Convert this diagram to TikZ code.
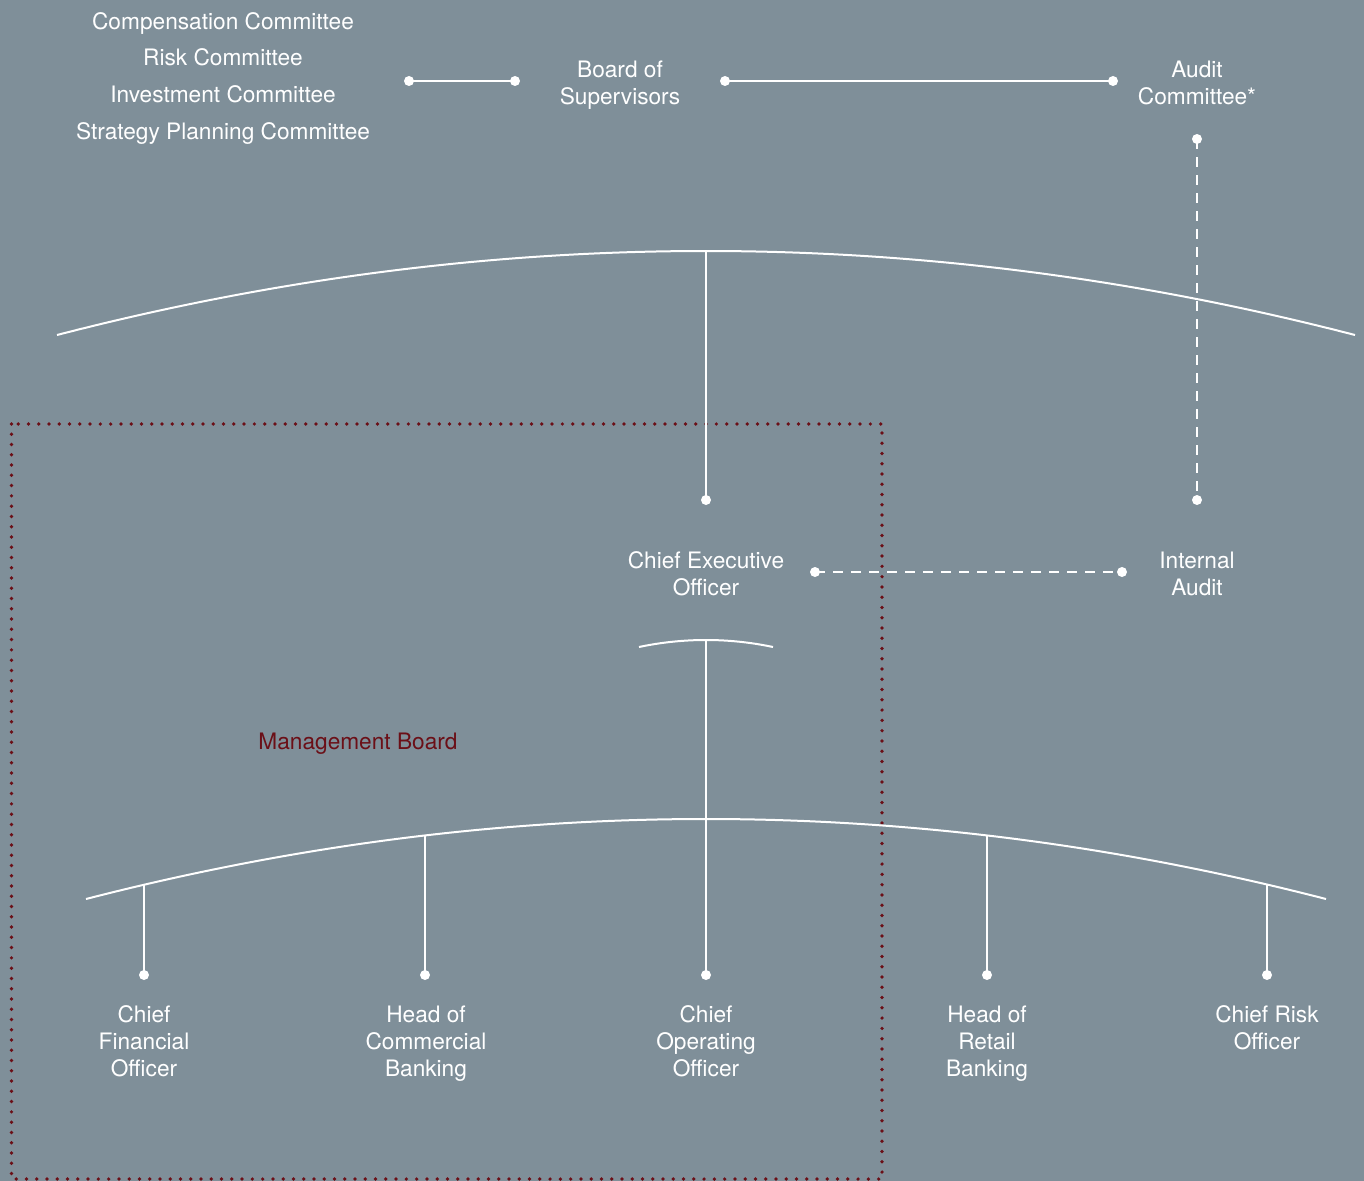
\documentclass[tikz,border=0pt]{standalone}
\usepackage{fontspec}
\setmainfont{TeX Gyre Heros}
\definecolor{bg}{HTML}{7F8F99}
\definecolor{mbred}{HTML}{6B0F17}
\begin{document}
\begin{tikzpicture}[x=0.75pt,y=-0.75pt,
  lbl/.style={text=white, align=center, font=\fontsize{17}{20.25}\selectfont, inner sep=0pt, anchor=base},
  conn/.style={white, line width=1.5pt},
  dashconn/.style={white, line width=1.5pt, dash pattern=on 7.5pt off 6pt},
  dotnode/.style={circle, fill=white, minimum size=7.5pt, inner sep=0pt},
  mbbox/.style={mbred, line width=2.8pt, line cap=round, dash pattern=on 0pt off 7.7pt}]
\fill[bg] (0,0) rectangle (1364,1181);
\useasboundingbox (0,0) rectangle (1364,1181);

% management board box
\draw[mbbox] (11.5,424) rectangle (882,1179);
\node[text=mbred, font=\fontsize{17}{20.25}\selectfont, inner sep=0pt, anchor=base] (mb) at (358,749) {Management Board};

% top row (base anchor = baseline of last line)
\node[lbl] (comp) at (223,29.3) {Compensation Committee};
\node[lbl] (risk) at (223,65.7) {Risk Committee};
\node[lbl] (inv) at (223,102.3) {Investment Committee};
\node[lbl] (strat) at (223,139.3) {Strategy Planning Committee};
\node[lbl] (bos) at (620,104.3) {Board of\\Supervisors};
\node[lbl] (ac) at (1197,104.3) {Audit\\Committee*};

\node[dotnode] (d1) at (409,81) {};
\node[dotnode] (d2) at (515,81) {};
\node[dotnode] (d3) at (725,81) {};
\node[dotnode] (d4) at (1113,81) {};
\node[dotnode] (d5) at (1197,139) {};
\node[dotnode] (d6) at (1197,500) {};
\draw[conn] (d1.center) -- (d2.center);
\draw[conn] (d3.center) -- (d4.center);
\draw[dashconn] (d5.center) -- (d6.center);

% big arc
\coordinate (a1l) at (57,335);
\coordinate (a1t) at (706,251);
\coordinate (a1r) at (1355,335);
\draw[conn] (a1l) .. controls (273.3,279) and (489.7,251) .. (a1t)
  .. controls (922.3,251) and (1138.7,279) .. (a1r);
\node[dotnode] (dceo) at (706,500) {};
\draw[conn] (a1t) -- (dceo.center);

% CEO + internal audit
\node[lbl] (ceo) at (706,595) {Chief Executive\\Officer};
\node[lbl] (ia) at (1197,595) {Internal\\Audit};
\node[dotnode] (d7) at (815,572) {};
\node[dotnode] (d8) at (1122,572) {};
\draw[dashconn] (d7.center) -- (d8.center);

% small arc
\coordinate (a2l) at (639,647);
\coordinate (a2t) at (706,640);
\coordinate (a2r) at (773,647);
\draw[conn] (a2l) .. controls (661.3,642.3) and (683.7,640) .. (a2t)
  .. controls (728.3,640) and (750.7,642.3) .. (a2r);

% lower arc
\coordinate (a3l) at (86,899);
\coordinate (a3t) at (706,819);
\coordinate (a3r) at (1326,899);
\draw[conn] (a3l) .. controls (292.7,845.7) and (499.3,819) .. (a3t)
  .. controls (912.7,819) and (1119.3,845.7) .. (a3r);

\coordinate (b1) at (144,884.7);
\coordinate (b2) at (425,835.4);
\coordinate (b4) at (987,835.4);
\coordinate (b5) at (1267,884.1);
\node[dotnode] (e1) at (144,975) {};
\node[dotnode] (e2) at (425,975) {};
\node[dotnode] (e3) at (706,975) {};
\node[dotnode] (e4) at (987,975) {};
\node[dotnode] (e5) at (1267,975) {};
\draw[conn] (a2t) -- (e3.center);
\draw[conn] (b1) -- (e1.center);
\draw[conn] (b2) -- (e2.center);
\draw[conn] (b4) -- (e4.center);
\draw[conn] (b5) -- (e5.center);

\node[lbl] (cfo) at (144,1076.7) {Chief\\Financial\\Officer};
\node[lbl] (hcb) at (426,1076.7) {Head of\\Commercial\\Banking};
\node[lbl] (coo) at (706,1076.7) {Chief\\Operating\\Officer};
\node[lbl] (hrb) at (987,1076.7) {Head of\\Retail\\Banking};
\node[lbl] (cro) at (1267,1049.7) {Chief Risk\\Officer};
\end{tikzpicture}
\end{document}
